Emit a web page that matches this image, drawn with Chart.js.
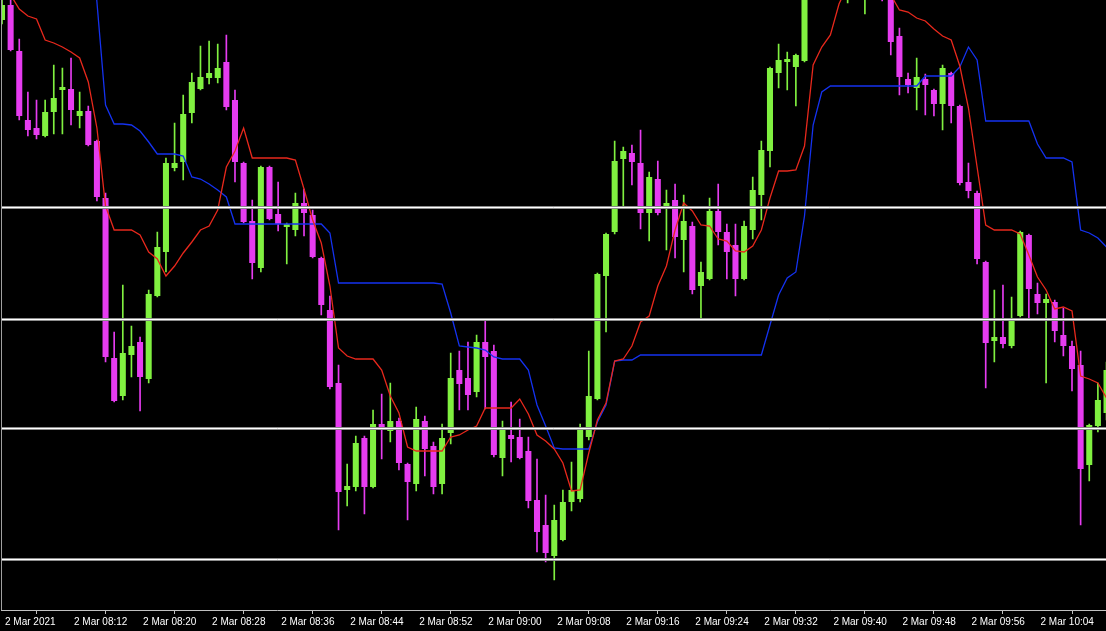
<!DOCTYPE html>
<html>
<head>
<meta charset="utf-8">
<title>2 Mar 2021 M1</title>
<script src="https://cdn.jsdelivr.net/npm/chart.js@4.4.1/dist/chart.umd.min.js"></script>
<style>
    html, body { margin: 0; padding: 0; background: #000; }
    #wrap { position: relative; width: 1106px; height: 631px; }
</style>
</head>
<body>
<div id="wrap"><canvas id="priceChart"></canvas></div>
<script>
// one-minute candles from 08:04, index 0..128
const open = [1.20600,1.20615,1.20569,1.20500,1.20492,1.20484,1.20508,1.20530,1.20531,1.20504,
    1.20509,1.20479,1.20422,1.20262,1.20224,1.20265,1.20278,1.20241,1.20324,1.20368,
    1.20452,1.20458,1.20507,1.20531,1.20542,1.20542,1.20558,1.20520,1.20457,1.20399,
    1.20352,1.20453,1.20406,1.20393,1.20390,1.20417,1.20405,1.20362,1.20310,1.20237,
    1.20130,1.20133,1.20182,1.20133,1.20196,1.20189,1.20199,1.20156,1.20136,1.20199,
    1.20174,1.20136,1.20187,1.20250,1.20242,1.20228,1.20278,1.20269,1.20162,1.20185,
    1.20183,1.20169,1.20120,1.20095,1.20064,1.20080,1.20118,1.20121,1.20183,1.20221,
    1.20344,1.20388,1.20461,1.20467,1.20457,1.20407,1.20441,1.20414,1.20420,1.20380,
    1.20394,1.20334,1.20341,1.20409,1.20388,1.20375,1.20341,1.20390,1.20425,1.20469,
    1.20547,1.20558,1.20553,1.20559,1.20630,1.20660,1.20675,1.20660,1.20635,1.20650,
    1.20625,1.20645,1.20640,1.20628,1.20584,1.20541,1.20532,1.20541,1.20530,1.20516,
    1.20547,1.20514,1.20438,1.20427,1.20358,1.20279,1.20283,1.20274,1.20304,1.20385,
    1.20326,1.20317,1.20318,1.20285,1.20274,1.20255,1.20155,1.20194,1.20207];

const high = [1.20622,1.20623,1.20581,1.20528,1.20520,1.20520,1.20555,1.20552,1.20562,1.20528,
    1.20514,1.20480,1.20427,1.20288,1.20335,1.20294,1.20283,1.20330,1.20388,1.20462,
    1.20497,1.20525,1.20547,1.20574,1.20579,1.20576,1.20585,1.20530,1.20458,1.20420,
    1.20454,1.20454,1.20438,1.20397,1.20427,1.20431,1.20410,1.20363,1.20324,1.20255,
    1.20156,1.20184,1.20184,1.20210,1.20226,1.20237,1.20202,1.20157,1.20213,1.20204,
    1.20178,1.20196,1.20267,1.20269,1.20278,1.20285,1.20299,1.20275,1.20199,1.20218,
    1.20201,1.20183,1.20161,1.20125,1.20115,1.20130,1.20158,1.20196,1.20269,1.20347,
    1.20387,1.20479,1.20473,1.20475,1.20490,1.20448,1.20459,1.20430,1.20436,1.20425,
    1.20398,1.20358,1.20422,1.20436,1.20396,1.20396,1.20399,1.20443,1.20479,1.20553,
    1.20576,1.20568,1.20566,1.20635,1.20670,1.20690,1.20695,1.20685,1.20670,1.20660,
    1.20655,1.20655,1.20650,1.20640,1.20592,1.20547,1.20562,1.20546,1.20531,1.20555,
    1.20548,1.20515,1.20457,1.20429,1.20359,1.20330,1.20335,1.20323,1.20389,1.20386,
    1.20337,1.20326,1.20320,1.20312,1.20279,1.20269,1.20196,1.20237,1.20258];

const low = [1.20596,1.20569,1.20500,1.20484,1.20481,1.20483,1.20486,1.20486,1.20495,1.20492,
    1.20474,1.20419,1.20258,1.20218,1.20220,1.20243,1.20209,1.20237,1.20323,1.20348,
    1.20449,1.20440,1.20497,1.20530,1.20536,1.20537,1.20510,1.20438,1.20397,1.20341,
    1.20348,1.20400,1.20389,1.20356,1.20384,1.20384,1.20362,1.20305,1.20231,1.20090,
    1.20114,1.20129,1.20106,1.20132,1.20161,1.20178,1.20150,1.20100,1.20129,1.20144,
    1.20126,1.20126,1.20176,1.20210,1.20210,1.20223,1.20211,1.20163,1.20144,1.20158,
    1.20161,1.20112,1.20068,1.20058,1.20040,1.20079,1.20109,1.20118,1.20180,1.20220,
    1.20288,1.20386,1.20414,1.20435,1.20391,1.20379,1.20405,1.20370,1.20362,1.20348,
    1.20326,1.20302,1.20340,1.20375,1.20341,1.20324,1.20340,1.20381,1.20400,1.20453,
    1.20532,1.20530,1.20514,1.20558,1.20625,1.20655,1.20650,1.20628,1.20617,1.20628,
    1.20606,1.20623,1.20619,1.20565,1.20525,1.20527,1.20510,1.20505,1.20504,1.20490,
    1.20497,1.20435,1.20422,1.20356,1.20232,1.20258,1.20272,1.20272,1.20303,1.20300,
    1.20306,1.20237,1.20278,1.20264,1.20229,1.20095,1.20139,1.20188,1.20200];

const close = [1.20615,1.20570,1.20504,1.20490,1.20485,1.20508,1.20522,1.20533,1.20510,1.20509,
    1.20475,1.20423,1.20263,1.20219,1.20267,1.20274,1.20243,1.20326,1.20373,1.20457,
    1.20457,1.20506,1.20538,1.20543,1.20547,1.20552,1.20513,1.20458,1.20398,1.20357,
    1.20453,1.20401,1.20396,1.20396,1.20417,1.20407,1.20363,1.20315,1.20233,1.20128,
    1.20134,1.20177,1.20133,1.20196,1.20193,1.20199,1.20157,1.20138,1.20201,1.20171,
    1.20133,1.20182,1.20242,1.20236,1.20225,1.20278,1.20263,1.20165,1.20190,1.20181,
    1.20162,1.20119,1.20088,1.20067,1.20100,1.20118,1.20130,1.20190,1.20224,1.20346,
    1.20386,1.20459,1.20469,1.20458,1.20407,1.20443,1.20407,1.20417,1.20383,1.20399,
    1.20330,1.20348,1.20409,1.20388,1.20368,1.20341,1.20394,1.20430,1.20470,1.20552,
    1.20560,1.20561,1.20565,1.20625,1.20660,1.20680,1.20660,1.20675,1.20650,1.20635,
    1.20645,1.20630,1.20625,1.20578,1.20543,1.20535,1.20543,1.20535,1.20516,1.20552,
    1.20514,1.20437,1.20429,1.20361,1.20277,1.20283,1.20276,1.20300,1.20388,1.20331,
    1.20317,1.20321,1.20289,1.20274,1.20251,1.20151,1.20195,1.20220,1.20250];

// fast average (red) and slower stepped line (blue)
const redLine = [1.20640,1.20625,1.20611,1.20604,1.20601,1.20580,1.20577,1.20573,1.20568,1.20562,
    1.20538,1.20492,1.20414,1.20390,1.20390,1.20390,1.20385,1.20368,1.20361,1.20344,
    1.20354,1.20367,1.20378,1.20390,1.20394,1.20410,1.20453,1.20469,1.20492,1.20462,
    1.20462,1.20462,1.20462,1.20462,1.20460,1.20431,1.20400,1.20377,1.20334,1.20272,
    1.20264,1.20261,1.20261,1.20261,1.20250,1.20224,1.20207,1.20173,1.20169,1.20169,
    1.20169,1.20169,1.20183,1.20185,1.20190,1.20194,1.20212,1.20212,1.20212,1.20212,
    1.20221,1.20206,1.20185,1.20179,1.20171,1.20157,1.20129,1.20130,1.20167,1.20200,
    1.20217,1.20259,1.20261,1.20274,1.20298,1.20304,1.20334,1.20354,1.20390,1.20417,
    1.20409,1.20395,1.20394,1.20381,1.20379,1.20369,1.20368,1.20374,1.20390,1.20422,
    1.20449,1.20449,1.20450,1.20474,1.20555,1.20573,1.20585,1.20616,1.20635,1.20645,
    1.20650,1.20645,1.20635,1.20625,1.20610,1.20608,1.20602,1.20599,1.20591,1.20584,
    1.20580,1.20554,1.20512,1.20453,1.20395,1.20390,1.20390,1.20390,1.20386,1.20365,
    1.20343,1.20330,1.20311,1.20313,1.20309,1.20244,1.20241,1.20237,1.20222];

const blueLine = [1.20710,1.20710,1.20710,1.20710,1.20710,1.20710,1.20710,1.20710,1.20710,1.20710,
    1.20710,1.20618,1.20515,1.20496,1.20496,1.20495,1.20489,1.20478,1.20466,1.20466,
    1.20466,1.20464,1.20443,1.20441,1.20436,1.20430,1.20423,1.20396,1.20396,1.20396,
    1.20396,1.20396,1.20396,1.20396,1.20396,1.20396,1.20396,1.20396,1.20387,1.20337,
    1.20337,1.20337,1.20337,1.20337,1.20337,1.20337,1.20337,1.20337,1.20337,1.20337,
    1.20337,1.20336,1.20307,1.20274,1.20273,1.20272,1.20270,1.20263,1.20261,1.20261,
    1.20261,1.20250,1.20215,1.20194,1.20172,1.20171,1.20171,1.20171,1.20171,1.20198,
    1.20215,1.20259,1.20260,1.20260,1.20265,1.20265,1.20265,1.20265,1.20265,1.20265,
    1.20265,1.20265,1.20265,1.20265,1.20265,1.20265,1.20265,1.20265,1.20265,1.20295,
    1.20325,1.20342,1.20348,1.20404,1.20495,1.20528,1.20534,1.20534,1.20534,1.20534,
    1.20534,1.20534,1.20534,1.20534,1.20534,1.20534,1.20534,1.20544,1.20544,1.20544,
    1.20544,1.20553,1.20573,1.20560,1.20499,1.20499,1.20499,1.20499,1.20499,1.20499,
    1.20476,1.20462,1.20462,1.20462,1.20458,1.20390,1.20387,1.20382,1.20373];

// horizontal levels drawn across the chart
const levels = [1.20413, 1.20301, 1.20192, 1.20061];

// every 8th bar gets a time label
const tickIndex = [0, 8, 16, 24, 32, 40, 48, 56, 64, 72, 80, 88, 96, 104, 112, 120];
const tickLabels = ['2 Mar 2021', '2 Mar 08:12', '2 Mar 08:20', '2 Mar 08:28', '2 Mar 08:36',
    '2 Mar 08:44', '2 Mar 08:52', '2 Mar 09:00', '2 Mar 09:08', '2 Mar 09:16', '2 Mar 09:24',
    '2 Mar 09:32', '2 Mar 09:40', '2 Mar 09:48', '2 Mar 09:56', '2 Mar 10:04'];

const BULL = '#80f040';
const BEAR = '#e63cf0';

document.addEventListener('DOMContentLoaded', () => {
    const colors = open.map((o, i) => close[i] >= o ? BULL : BEAR);
    const wicks = open.map((o, i) => ({ x: i, y: [low[i], high[i]] }));
    const bodies = open.map((o, i) => ({ x: i, y: [o, close[i]] }));

    // black background, frame line on the left, level lines on top of the candles
    const mtFrame = {
        id: 'mtFrame',
        beforeDraw(chart) {
            const ctx = chart.ctx;
            ctx.save();
            ctx.fillStyle = '#000';
            ctx.fillRect(0, 0, chart.width, chart.height);
            ctx.restore();
        },
        afterDatasetsDraw(chart) {
            const ctx = chart.ctx;
            const area = chart.chartArea;
            const y = chart.scales.y;
            ctx.save();
            levels.forEach(lv => {
                const py = Math.round(y.getPixelForValue(lv)) + 0.5;
                ctx.strokeStyle = '#8c8c8c';
                ctx.lineWidth = 3;
                ctx.beginPath();
                ctx.moveTo(area.left, py);
                ctx.lineTo(area.right, py);
                ctx.stroke();
                ctx.strokeStyle = '#ffffff';
                ctx.lineWidth = 1;
                ctx.beginPath();
                ctx.moveTo(area.left, py);
                ctx.lineTo(area.right, py);
                ctx.stroke();
            });
            ctx.strokeStyle = '#a0a0a0';
            ctx.lineWidth = 1;
            ctx.beginPath();
            ctx.moveTo(1.5, area.top);
            ctx.lineTo(1.5, area.bottom);
            ctx.stroke();
            ctx.restore();
        }
    };

    new Chart(document.getElementById('priceChart'), {
        type: 'bar',
        data: {
            datasets: [
                {
                    type: 'line',
                    data: redLine.map((v, i) => ({ x: i, y: v })),
                    borderColor: '#e8281c',
                    borderWidth: 1.3,
                    pointRadius: 0,
                    tension: 0,
                    order: 0
                },
                {
                    type: 'line',
                    data: blueLine.map((v, i) => ({ x: i, y: v })),
                    borderColor: '#1432f0',
                    borderWidth: 1.3,
                    pointRadius: 0,
                    tension: 0,
                    order: 0
                },
                {
                    data: bodies,
                    backgroundColor: colors,
                    borderWidth: 0,
                    borderSkipped: false,
                    grouped: false,
                    barPercentage: 0.7,
                    categoryPercentage: 1,
                    order: 1
                },
                {
                    data: wicks,
                    backgroundColor: colors,
                    borderWidth: 0,
                    borderSkipped: false,
                    grouped: false,
                    barThickness: 1,
                    order: 2
                }
            ]
        },
        options: {
            responsive: true,
            maintainAspectRatio: false,
            animation: false,
            layout: { padding: 0 },
            plugins: { legend: { display: false }, tooltip: { enabled: false } },
            scales: {
                x: {
                    type: 'linear',
                    offset: false,
                    min: -0.058,
                    max: 127.94,
                    afterBuildTicks: axis => {
                        axis.ticks = tickIndex.map(v => ({ value: v }));
                    },
                    afterFit: axis => { axis.height = 21; },
                    grid: { drawOnChartArea: false, drawTicks: true, tickLength: 4, color: '#c0c0c0' },
                    border: { display: true, color: '#c0c0c0', width: 1 },
                    ticks: {
                        autoSkip: false,
                        maxRotation: 0,
                        align: 'start',
                        labelOffset: 3,
                        padding: 2,
                        color: '#ffffff',
                        font: { family: 'Liberation Sans', size: 10 },
                        callback: v => tickLabels[tickIndex.indexOf(v)]
                    }
                },
                y: {
                    display: false,
                    min: 1.20010,
                    max: 1.20620
                }
            }
        },
        plugins: [mtFrame]
    });
});
</script>
</body>
</html>
